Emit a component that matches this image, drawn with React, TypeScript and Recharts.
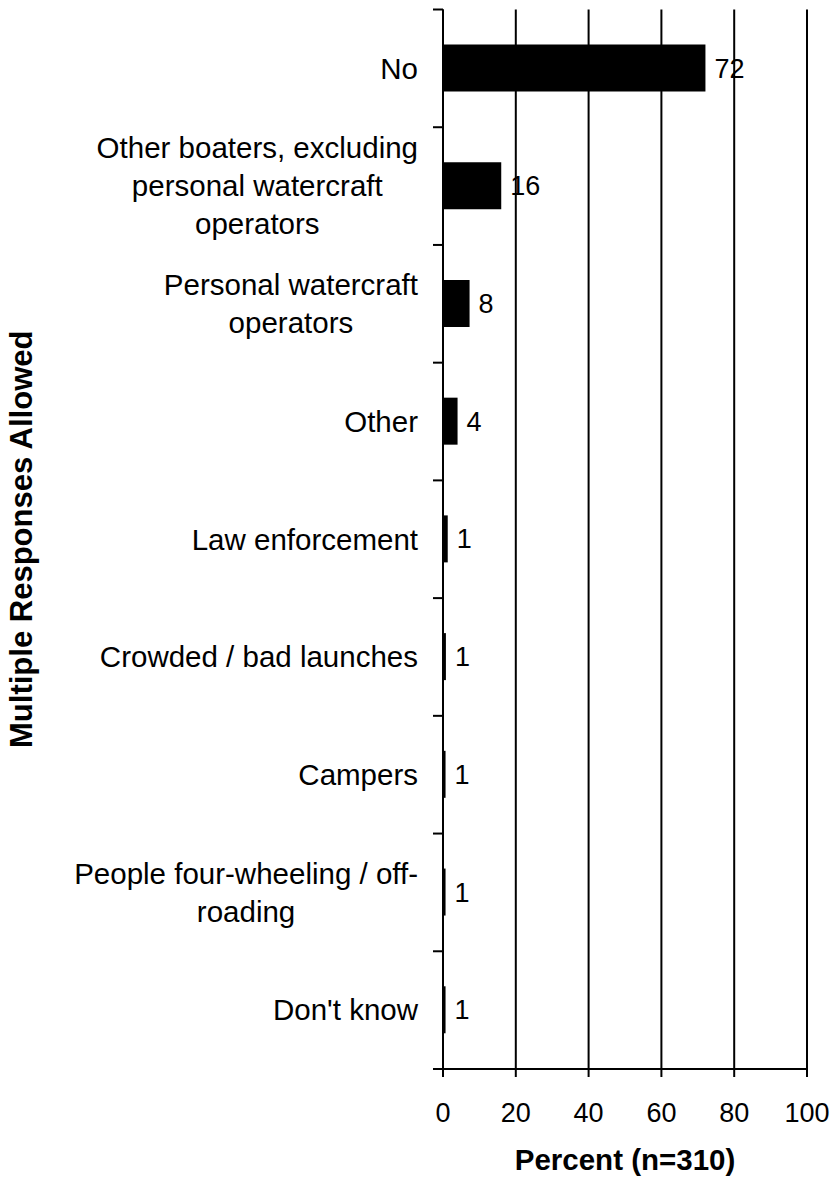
import React from 'react';
import { BarChart, Bar, XAxis, YAxis, CartesianGrid, LabelList, Label } from 'recharts';

const CATEGORIES = [
  'No',
  'Other boaters, excluding\npersonal watercraft\noperators',
  'Personal watercraft\noperators',
  'Other',
  'Law enforcement',
  'Crowded / bad launches',
  'Campers',
  'People four-wheeling / off-\nroading',
  "Don't know",
];
const VALUES = [72.1, 16.0, 7.3, 4.0, 1.3, 0.8, 0.7, 0.7, 0.7];
const LABELS = [72, 16, 8, 4, 1, 1, 1, 1, 1];
const X_TICKS = [0, 20, 40, 60, 80, 100];

const FONT = '"Liberation Sans", Arial, sans-serif';
const CAT_SIZE = 29.5;
const W = 833;
const H = 1180;
const PLOT_LEFT = 443;
const PLOT_TOP = 9.5;
const PLOT_RIGHT = 807;
const PLOT_BOTTOM = 1069;
const BAND = (PLOT_BOTTOM - PLOT_TOP) / CATEGORIES.length;

const data = CATEGORIES.map((name, i) => ({ name, value: VALUES[i], label: LABELS[i] }));

let ctx: CanvasRenderingContext2D | null = null;
const measure = (s: string) => {
  if (!ctx) ctx = document.createElement('canvas').getContext('2d');
  if (!ctx) return s.length * CAT_SIZE * 0.5;
  ctx.font = `${CAT_SIZE}px ${FONT}`;
  return ctx.measureText(s).width;
};

const CategoryTick = ({ y, payload, index }: any) => {
  const lines = String(payload.value).split('\n');
  const lh = 38;
  const startY = y - ((lines.length - 1) * lh) / 2;
  const blockW = Math.max(...lines.map(measure));
  const cx = PLOT_LEFT - 25 - blockW / 2;
  return (
    <g>
      <line x1={PLOT_LEFT - 10} x2={PLOT_LEFT} y1={y - BAND / 2} y2={y - BAND / 2} stroke="#000" strokeWidth={2} />
      {index === CATEGORIES.length - 1 && (
        <line x1={PLOT_LEFT - 10} x2={PLOT_LEFT} y1={y + BAND / 2} y2={y + BAND / 2} stroke="#000" strokeWidth={2} />
      )}
      <text x={cx} y={startY} textAnchor="middle" fontSize={CAT_SIZE} fontFamily={FONT} fill="#000">
        {lines.map((l, k) => (
          <tspan key={k} x={cx} y={startY + k * lh} dy="0.35em">
            {l}
          </tspan>
        ))}
      </text>
    </g>
  );
};

const YTitle = () => (
  <text transform={`translate(32,${(PLOT_TOP + PLOT_BOTTOM) / 2}) rotate(-90)`} textAnchor="middle" fontSize={31} fontWeight="bold" fontFamily={FONT} fill="#000">
    Multiple Responses Allowed
  </text>
);

const XTitle = () => (
  <text x={(PLOT_LEFT + PLOT_RIGHT) / 2} y={1170} textAnchor="middle" fontSize={29.5} fontWeight="bold" fontFamily={FONT} fill="#000">
    Percent (n=310)
  </text>
);

export default function App() {
  return (
    <div style={{ position: 'absolute', left: 0, top: 0, width: W, height: H, background: '#fff' }}>
      <BarChart
        width={W}
        height={H}
        data={data}
        layout="vertical"
        margin={{ top: PLOT_TOP, right: W - PLOT_RIGHT, bottom: 0, left: 0 }}
      >
        <CartesianGrid horizontal={false} vertical stroke="#000" strokeWidth={2} />
        <XAxis
          type="number"
          domain={[0, 100]}
          ticks={X_TICKS}
          height={H - PLOT_BOTTOM}
          axisLine={{ stroke: '#000', strokeWidth: 2 }}
          tickLine={{ stroke: '#000', strokeWidth: 2 }}
          tickSize={8}
          tickMargin={26}
          tick={{ fontSize: 27, fill: '#000', fontFamily: FONT }}
        >
          <Label content={<XTitle />} />
        </XAxis>
        <YAxis
          type="category"
          dataKey="name"
          width={PLOT_LEFT}
          axisLine={{ stroke: '#000', strokeWidth: 2 }}
          tickLine={false}
          tick={<CategoryTick />}
          interval={0}
        >
          <Label content={<YTitle />} />
        </YAxis>
        <Bar dataKey="value" fill="#000" barSize={47} isAnimationActive={false}>
          <LabelList dataKey="label" position="right" offset={9} fontSize={27} fill="#000" fontFamily={FONT} />
        </Bar>
      </BarChart>
    </div>
  );
}
